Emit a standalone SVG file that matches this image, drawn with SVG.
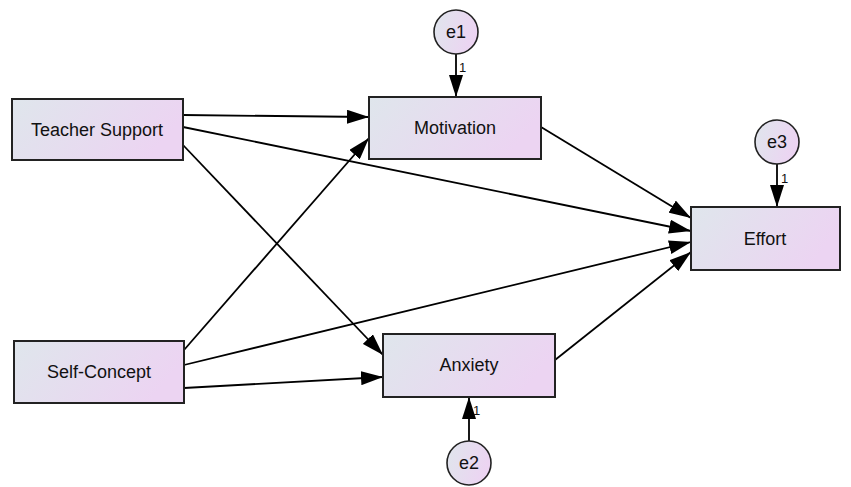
<svg xmlns="http://www.w3.org/2000/svg" width="851" height="487" viewBox="0 0 851 487">
<defs>
<linearGradient id="g" x1="0" y1="0" x2="1" y2="0.3">
<stop offset="0" stop-color="#dfe6ec"/>
<stop offset="1" stop-color="#ecd4f2"/>
</linearGradient>
<marker id="ah" markerUnits="userSpaceOnUse" markerWidth="24" markerHeight="14" refX="22" refY="7" orient="auto">
<path d="M0,0 L22,7 L0,14 Z" fill="#000"/>
</marker>
<style>
.box{fill:url(#g);stroke:#222;stroke-width:2}
.ell{fill:url(#g);stroke:#222;stroke-width:1.6}
.t{font-family:"Liberation Sans",Arial,sans-serif;font-size:18px;fill:#111;text-anchor:middle;dominant-baseline:central}
.s{font-family:"Liberation Sans",Arial,sans-serif;font-size:13px;fill:#111}
.c line{stroke:#000;stroke-width:1.8;marker-end:url(#ah)}
</style>
</defs>
<g class="c" id="connectors">
<line x1="183" y1="115" x2="369" y2="117"/>
<line x1="183" y1="127" x2="691" y2="231"/>
<line x1="183" y1="145" x2="383" y2="355"/>
<line x1="184" y1="350" x2="369" y2="138"/>
<line x1="184" y1="365" x2="691" y2="242"/>
<line x1="184" y1="388" x2="383" y2="377"/>
<line x1="541" y1="127" x2="691" y2="218"/>
<line x1="555" y1="360" x2="691" y2="252"/>
<line x1="456" y1="54" x2="456" y2="97"/>
<line x1="469" y1="441" x2="469" y2="397"/>
<line x1="777" y1="164" x2="777" y2="207"/>
</g>
<g id="n-teacher"><rect class="box" x="12" y="99" width="171" height="61"/><text class="t" x="97" y="130">Teacher Support</text></g>
<g id="n-self"><rect class="box" x="14" y="341" width="170" height="62"/><text class="t" x="99" y="372">Self-Concept</text></g>
<g id="n-motivation"><rect class="box" x="369" y="97" width="172" height="62"/><text class="t" x="455" y="128">Motivation</text></g>
<g id="n-anxiety"><rect class="box" x="383" y="334" width="172" height="63"/><text class="t" x="469" y="365">Anxiety</text></g>
<g id="n-effort"><rect class="box" x="691" y="207" width="149" height="63"/><text class="t" x="765" y="239">Effort</text></g>
<g id="n-e1"><circle class="ell" cx="456" cy="32" r="22"/><text class="t" x="456" y="32">e1</text><text class="s" x="459" y="72">1</text></g>
<g id="n-e2"><circle class="ell" cx="469" cy="463" r="22"/><text class="t" x="469" y="463">e2</text><text class="s" x="473" y="415">1</text></g>
<g id="n-e3"><circle class="ell" cx="777" cy="142" r="22"/><text class="t" x="777" y="142">e3</text><text class="s" x="781" y="183">1</text></g>
</svg>
